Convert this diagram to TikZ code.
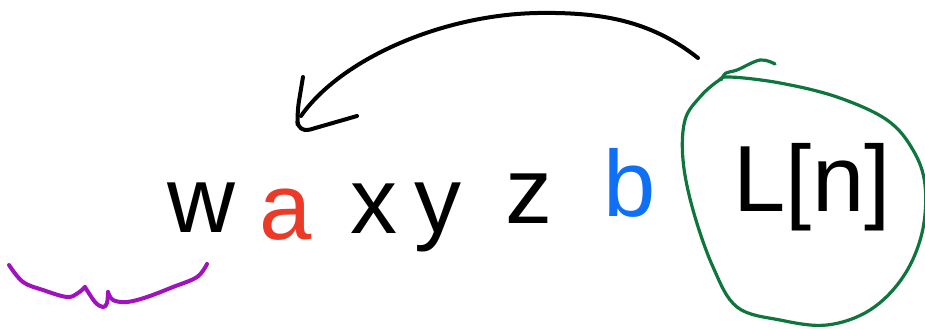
\documentclass[tikz,border=0pt]{standalone}
\usepackage{fontspec}
\setmainfont{Liberation Sans}
\usepackage{xcolor}
\usetikzlibrary{arrows.meta,positioning}
\definecolor{inkred}{RGB}{235,58,40}
\definecolor{inkblue}{RGB}{16,112,245}
\definecolor{inkgreen}{RGB}{14,118,60}
\definecolor{inkpurple}{RGB}{160,18,190}

\begin{document}
\begin{tikzpicture}[
  x=0.5pt, y=-0.5pt,
  letter/.style={inner sep=0pt, anchor=base, font=\fontsize{47}{56}\selectfont},
  pen/.style={line width=2pt, line cap=round, line join=round},
  ringpen/.style={pen, draw=inkgreen, line width=1.6pt},
  bracepen/.style={pen, draw=inkpurple, line width=2pt}
]
\useasboundingbox (0,0) rectangle (925,328);

\node[letter] (w) at (201,232) {w};
\node[letter, text=inkred] (a) at (286,239) {a};
\node[letter] (x) at (374,233) {x};
\node[letter] (y) at (438,232) {y};
\node[letter] (z) at (529,223) {z};
\node[letter, text=inkblue] (b) at (630,216) {b};
\node[letter] (Ln) at (812,211) {L[n]};

\coordinate (arcstart) at (698,58);
\coordinate (arcpeak) at (537,13);
\coordinate (arcend) at (301,116);
\coordinate (barbup) at (303,77);
\coordinate (arctip) at (298,133);
\coordinate (barbright) at (357,116);

\draw[pen] (arcstart) .. controls (650,20) and (600,12) .. (arcpeak)
  .. controls (440,15) and (340,60) .. (arcend);
\draw[pen, rounded corners=6pt] (barbup) -- (297,113) -- (arctip) -- (barbright);

\draw[ringpen] plot[smooth cycle, tension=0.6] coordinates {
  (730,77) (780,83) (837,97) (887,120) (913,150) (925,185) (922,233)
  (903,277) (870,310) (827,325) (780,320) (737,307) (713,267) (693,210)
  (683,160) (685,120) (700,97) (718,81)};
\draw[ringpen] plot[smooth, tension=0.6] coordinates {
  (721,80) (726,73) (737,70) (760,60) (775,64)};

\draw[bracepen] plot[smooth, tension=0.6] coordinates {
  (9,265) (23,282) (43,290) (67,297) (78,293) (85,287)};
\draw[bracepen] plot[smooth, tension=0.6] coordinates {
  (85,287) (95,302) (103,307) (107,303) (108,292)};
\draw[bracepen] plot[smooth, tension=0.6] coordinates {
  (108,292) (113,300) (127,302) (147,297) (173,287) (197,277) (207,264)};
\end{tikzpicture}
\end{document}
